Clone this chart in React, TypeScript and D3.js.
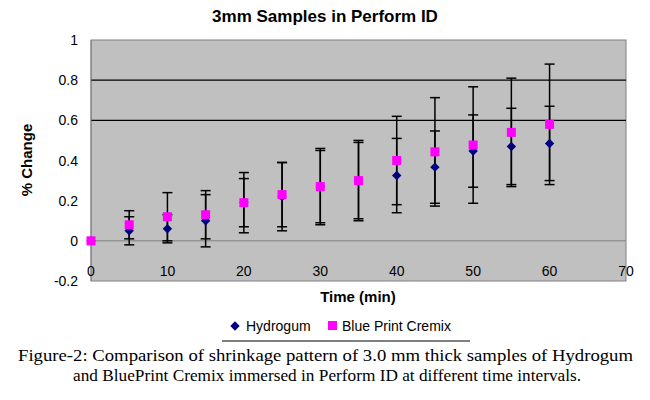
import React from "react";
import * as d3 from "d3";

const times = [0, 5, 10, 15, 20, 25, 30, 35, 40, 45, 50, 55, 60];
const hydrogum = [0, 0.05, 0.06, 0.1, 0.19, 0.22, 0.27, 0.3, 0.325, 0.367, 0.447, 0.47, 0.485];
const hydrogumErr = [0, 0.07, 0.07, 0.13, 0.15, 0.17, 0.18, 0.19, 0.185, 0.18, 0.18, 0.19, 0.185];
const blueprint = [0, 0.08, 0.12, 0.13, 0.19, 0.23, 0.27, 0.3, 0.4, 0.443, 0.477, 0.54, 0.58];
const blueprintErr = [0, 0.07, 0.12, 0.12, 0.12, 0.16, 0.19, 0.2, 0.22, 0.27, 0.29, 0.27, 0.3];
const xTicks = [0, 10, 20, 30, 40, 50, 60, 70];
const yTicks = ["-0.2", "0", "0.2", "0.4", "0.6", "0.8", "1"];
const gridLines = [0.6, 0.8];

const App = () => {
  const x = d3.scaleLinear().domain([0, 70]).range([91, 626]);
  const y = d3.scaleLinear().domain([-0.2, 1]).range([281, 40]);
  const font = "'Liberation Sans', Arial, sans-serif";
  const diamond = d3.symbol(d3.symbolSquare, 40)()!;

  const errBars = (vals: number[], errs: number[]) =>
    times.map((t, i) =>
      errs[i] > 0 ? (
        <g key={i} stroke="#000" strokeWidth={1.5}>
          <line x1={x(t)} x2={x(t)} y1={y(vals[i] - errs[i])} y2={y(vals[i] + errs[i])} />
          <line x1={x(t) - 5} x2={x(t) + 5} y1={y(vals[i] - errs[i])} y2={y(vals[i] - errs[i])} />
          <line x1={x(t) - 5} x2={x(t) + 5} y1={y(vals[i] + errs[i])} y2={y(vals[i] + errs[i])} />
        </g>
      ) : null
    );

  return (
    <svg width={650} height={400} style={{ position: "absolute", left: 0, top: 0, background: "#fff" }} fontFamily={font}>
      <text x={325} y={22} textAnchor="middle" fontSize={17} fontWeight="bold">3mm Samples in Perform ID</text>
      <rect x={91} y={40} width={535} height={241} fill="#c0c0c0" stroke="#808080" />
      {gridLines.map((g) => (
        <line key={g} x1={91} x2={626} y1={y(g)} y2={y(g)} stroke="#000" strokeWidth={1.3} />
      ))}
      <line x1={91} x2={91} y1={40} y2={281} stroke="#808080" />
      <line x1={91} x2={626} y1={y(0)} y2={y(0)} stroke="#808080" />
      {yTicks.map((t) => (
        <text key={t} x={78} y={y(+t) + 5} textAnchor="end" fontSize={14}>{t}</text>
      ))}
      {xTicks.map((t) => (
        <text key={t} x={x(t)} y={276} textAnchor="middle" fontSize={14}>{t}</text>
      ))}
      {errBars(hydrogum, hydrogumErr)}
      {errBars(blueprint, blueprintErr)}
      {times.map((t, i) => (
        <path key={"h" + i} d={diamond} transform={`translate(${x(t)},${y(hydrogum[i])}) rotate(45) scale(1.05)`} fill="#000080" />
      ))}
      {times.map((t, i) => (
        <rect key={"b" + i} x={x(t) - 4.5} y={y(blueprint[i]) - 4.5} width={9} height={9} fill="#ff00ff" />
      ))}
      <text x={32} y={160} transform="rotate(-90,32,160)" textAnchor="middle" fontSize={15} fontWeight="bold">% Change</text>
      <text x={358} y={302} textAnchor="middle" fontSize={15} fontWeight="bold">Time (min)</text>
      <path d={diamond} transform="translate(235,326) rotate(45) scale(1.05)" fill="#000080" />
      <text x={246} y={331} fontSize={14}>Hydrogum</text>
      <rect x={328} y={321} width={9} height={9} fill="#ff00ff" />
      <text x={342} y={331} fontSize={14}>Blue Print Cremix</text>
      <line x1={222} x2={470} y1={341} y2={341} stroke="#000" />
      <g fontFamily="'Liberation Serif', 'Times New Roman', serif" fontSize={17}>
        <text x={18} y={361} textLength={615} lengthAdjust="spacingAndGlyphs">Figure-2: Comparison of shrinkage pattern of 3.0 mm thick samples of Hydrogum</text>
        <text x={73} y={381} textLength={508} lengthAdjust="spacingAndGlyphs">and BluePrint Cremix immersed in Perform ID at different time intervals.</text>
      </g>
    </svg>
  );
};

export default App;
